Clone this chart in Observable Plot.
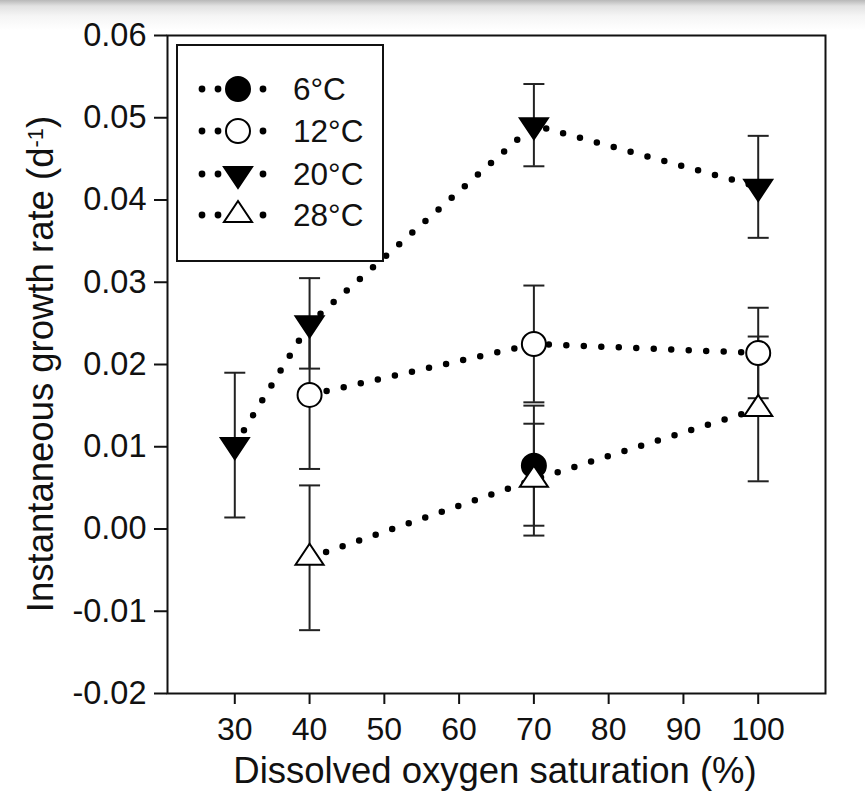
<!DOCTYPE html>
<html><head><meta charset="utf-8">
<script src="https://cdn.jsdelivr.net/npm/d3@7"></script>
<script src="https://cdn.jsdelivr.net/npm/@observablehq/plot@0.6"></script>
<style>
body{margin:0;background:#fff;}
#wrap{position:relative;width:865px;height:792px;overflow:hidden;background:linear-gradient(#b8b8b8,#e2e2e2 6px,#f5f5f5 16px,#fff 30px);}
#wrap svg{position:absolute;left:0;top:0;}
</style></head><body><div id="wrap"></div>
<script>
// ---- data ----
const seriesNames = ["6°C", "12°C", "20°C", "28°C"];
const x6 = [70];
const y6 = [0.0077];
const e6 = [0.0073];
const x12 = [40, 70, 100];
const y12 = [0.0163, 0.0225, 0.0214];
const e12 = [0.0090, 0.0071, 0.0055];
const x20 = [30, 40, 70, 100];
const y20 = [0.0102, 0.0250, 0.0491, 0.0416];
const e20 = [0.0088, 0.0055, 0.0050, 0.0062];
const x28 = [40, 70, 100];
const y28 = [-0.0035, 0.0060, 0.0146];
const e28 = [0.0088, 0.0068, 0.0088];
const xTicks = [30, 40, 50, 60, 70, 80, 90, 100];
const yTicks = [-0.02, -0.01, 0.00, 0.01, 0.02, 0.03, 0.04, 0.05, 0.06];
const xLabel = "Dissolved oxygen saturation (%)";
const yLabel = "Instantaneous growth rate (d";

const groups = [[seriesNames[0], x6, y6, e6], [seriesNames[1], x12, y12, e12],
                [seriesNames[2], x20, y20, e20], [seriesNames[3], x28, y28, e28]];
const rows = [];
groups.forEach(([s, xs, ys, es]) => xs.forEach((x, i) =>
  rows.push({series: s, x, y: ys[i], lo: ys[i] - es[i], hi: ys[i] + es[i]})));

// ---- symbols ----
const triUp = {draw(ctx, size) { const s = Math.sqrt(size / Math.PI);
  ctx.moveTo(0, -1.3 * s); ctx.lineTo(1.3 * s, 0.65 * s); ctx.lineTo(-1.3 * s, 0.65 * s); ctx.closePath(); }};
const triDown = {draw(ctx, size) { const s = Math.sqrt(size / Math.PI);
  ctx.moveTo(0, 1.3 * s); ctx.lineTo(1.3 * s, -0.65 * s); ctx.lineTo(-1.3 * s, -0.65 * s); ctx.closePath(); }};
const capSym = {draw(ctx, size) { const w = Math.sqrt(size / Math.PI); ctx.moveTo(-w, 0); ctx.lineTo(w, 0); }};
const styles = {
  "6°C": {symbol: "circle", fill: "#000", r: 12},
  "12°C": {symbol: "circle", fill: "#fff", r: 12},
  "20°C": {symbol: triDown, fill: "#000", r: 10.8},
  "28°C": {symbol: triUp, fill: "#fff", r: 10.8}
};

const font = "'Liberation Sans', Arial, Helvetica, sans-serif";
const ink = "#111";

const chart = Plot.plot({
  width: 865, height: 792,
  marginLeft: 167, marginRight: 40, marginTop: 35, marginBottom: 99,
  x: {domain: [21, 109]},
  y: {domain: [-0.02, 0.06]},
  style: {fontFamily: font, fontSize: "32px", color: ink, background: "transparent", overflow: "visible"},
  marks: [
    Plot.axisX({ticks: xTicks, tickSize: 11, tickPadding: 13, label: null, strokeWidth: 2, fontSize: 32}),
    Plot.axisY({ticks: yTicks, tickSize: 13, tickPadding: 8, label: null, strokeWidth: 2, fontSize: 32.5,
                tickFormat: d => d.toFixed(2)}),
    Plot.line(rows.filter(d => d.series !== "6°C"), {x: "x", y: "y", z: "series", stroke: "#000",
      strokeWidth: 6.5, strokeDasharray: "0,17.5", strokeLinecap: "round"}),
    Plot.ruleX(rows, {x: "x", y1: "lo", y2: "hi", stroke: "#222", strokeWidth: 2}),
    Plot.dot(rows, {x: "x", y: "lo", symbol: capSym, r: 10.5, fill: "none", stroke: "#222", strokeWidth: 2}),
    Plot.dot(rows, {x: "x", y: "hi", symbol: capSym, r: 10.5, fill: "none", stroke: "#222", strokeWidth: 2}),
    ...seriesNames.map(s => Plot.dot(rows.filter(d => d.series === s), {x: "x", y: "y",
      symbol: styles[s].symbol, r: styles[s].r, fill: styles[s].fill, stroke: "#000", strokeWidth: 2})),
    Plot.frame({stroke: ink, strokeWidth: 2})
  ]
});
document.getElementById("wrap").append(chart);

// ---- axis titles and legend ----
const svg = d3.select(chart);
svg.append("text").attr("x", 495).attr("y", 783).attr("text-anchor", "middle")
  .attr("font-size", 36.5).attr("fill", ink).text(xLabel);
const yt = svg.append("text").attr("transform", "translate(53,364) rotate(-90)")
  .attr("text-anchor", "middle").attr("font-size", 36.5).attr("fill", ink);
yt.append("tspan").text(yLabel);
yt.append("tspan").attr("dy", "-0.45em").attr("font-size", "0.6em").text("-1");
yt.append("tspan").attr("dy", "0.27em").text(")");

const lg = svg.append("g");
lg.append("rect").attr("x", 177).attr("y", 45).attr("width", 206).attr("height", 216)
  .attr("fill", "#fff").attr("stroke", ink).attr("stroke-width", 2);
const rowY = [89, 131, 174, 215];
seriesNames.forEach((s, i) => {
  const y = rowY[i];
  [202, 218, 263].forEach(x => lg.append("circle").attr("cx", x).attr("cy", y).attr("r", 3.4).attr("fill", "#000"));
  const st = styles[s];
  const sym = st.symbol === "circle" ? d3.symbolCircle : st.symbol;
  lg.append("path").attr("transform", `translate(238,${y})`)
    .attr("d", d3.symbol(sym, Math.PI * st.r * st.r)())
    .attr("fill", st.fill).attr("stroke", "#000").attr("stroke-width", 2);
  lg.append("text").attr("x", 293).attr("y", y).attr("dy", "0.36em").attr("text-anchor", "start")
    .attr("font-size", 31.5).attr("fill", ink).text(s);
});
</script>
</body></html>
